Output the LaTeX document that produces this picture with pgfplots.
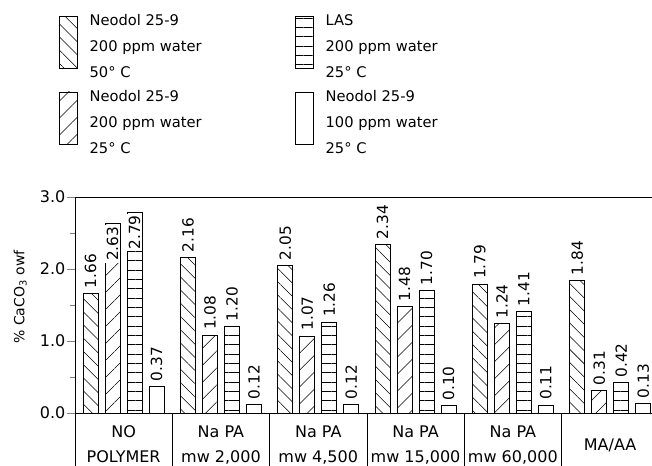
\documentclass[border=0pt]{standalone}
\usepackage{pgfplots}
\pgfplotsset{compat=1.18}
\usepackage{pgfplotstable}
\usepackage{fontspec}
\setmainfont{DejaVu Sans}
\usetikzlibrary{patterns.meta}

\pgfplotstableread{
x y lab
0 1.66 1.66
1 2.16 2.16
2 2.05 2.05
3 2.34 2.34
4 1.79 1.79
5 1.84 1.84
}\serA
\pgfplotstableread{
x y lab
0 2.63 2.63
1 1.08 1.08
2 1.07 1.07
3 1.48 1.48
4 1.24 1.24
5 0.31 0.31
}\serB
\pgfplotstableread{
x y lab
0 2.79 2.79
1 1.20 1.20
2 1.26 1.26
3 1.70 1.70
4 1.41 1.41
5 0.42 0.42
}\serC
\pgfplotstableread{
x y lab
0 0.37 0.37
1 0.12 0.12
2 0.12 0.12
3 0.10 0.10
4 0.11 0.11
5 0.13 0.13
}\serD

\begin{document}
\begin{tikzpicture}
\useasboundingbox (0,0) rectangle (489pt,349.5pt);
\begin{axis}[
  at={(56.25pt,39.75pt)}, anchor=south west,
  scale only axis, width=432.75pt, height=162pt,
  xmin=-0.5, xmax=5.43, ymin=0, ymax=3,
  ybar, bar width=11.25pt,
  axis y line*=left,
  tick align=outside,
  major tick length=6pt, minor tick length=4pt,
  ytick={0,1,2,3}, minor ytick={0.5,1.5,2.5},
  ytick pos=left, xtick pos=bottom,
  /pgf/number format/assume math mode=true,
  yticklabel style={inner sep=1pt, font=\fontsize{12}{14}\selectfont, /pgf/number format/.cd, fixed, fixed zerofill, precision=1},
  xtick={0,1,2,3,4,5},
  xticklabels={{NO\\POLYMER},{Na PA\\mw 2,000},{Na PA\\mw 4,500},{Na PA\\mw 15,000},{Na PA\\mw 60,000},{\raisebox{-9.5pt}[\height][0pt]{MA/AA}}},
  xticklabel style={align=center, font=\fontsize{12}{19}\selectfont},
  xtick style={draw=none},
  extra x ticks={-0.5,0.5,1.5,2.5,3.5,4.5},
  extra x tick labels={},
  extra x tick style={major tick length=40pt, xtick style={draw=black, line width=0.5pt}},
  every axis y label/.style={at={(axis description cs:0,0.5)}, xshift=-41pt, yshift=6pt, rotate=90, anchor=center, font=\fontsize{10.5}{12}\selectfont},
  ylabel={\% CaCO\textsubscript{3} owf},
  point meta=explicit symbolic,
  nodes near coords,
  every node near coord/.append style={rotate=90, font=\fontsize{11.5}{14}\selectfont, inner sep=1.2pt},
  coordinate style/.condition={y<2.5}{anchor=west, outer sep=2.8pt},
  coordinate style/.condition={y>2.5}{anchor=east, fill=white, inner sep=0.8pt, outer sep=1.2pt},
  legend columns=2,
  legend cell align=left,
  legend style={at={(axis description cs:-0.0277,1.857)}, anchor=north west, draw=none, fill=none, inner sep=0pt,
    cells={align=left}, font=\fontsize{11}{19.5}\selectfont,
    /tikz/every odd column/.append style={column sep=6.75pt},
    /tikz/every even column/.append style={column sep=68.25pt}, row sep=3.5pt},
  legend image code/.code={\draw[#1, line width=0.5pt] (0pt,-16pt) rectangle (13.5pt,23pt);},
]
\addplot[draw=black, line width=0.6pt, pattern={Lines[angle=-45, distance=7pt, line width=0.4pt]}, bar shift=-24.75pt]
  table[x=x, y=y, meta=lab] {\serA};
\addlegendentry{Neodol 25-9\\200 ppm water\\50° C}
\addplot[draw=black, line width=0.6pt, pattern={Lines[angle=0, distance=7pt, line width=0.4pt]}, bar shift=8.25pt]
  table[x=x, y=y, meta=lab] {\serC};
\addlegendentry{LAS\\200 ppm water\\25° C}
\addplot[draw=black, line width=0.6pt, pattern={Lines[angle=45, distance=9pt, line width=0.4pt]}, bar shift=-8.25pt]
  table[x=x, y=y, meta=lab] {\serB};
\addlegendentry{Neodol 25-9\\200 ppm water\\25° C}
\addplot[draw=black, line width=0.6pt, fill=white, bar shift=24.75pt]
  table[x=x, y=y, meta=lab] {\serD};
\addlegendentry{Neodol 25-9\\100 ppm water\\25° C}
\end{axis}
\end{tikzpicture}
\end{document}
